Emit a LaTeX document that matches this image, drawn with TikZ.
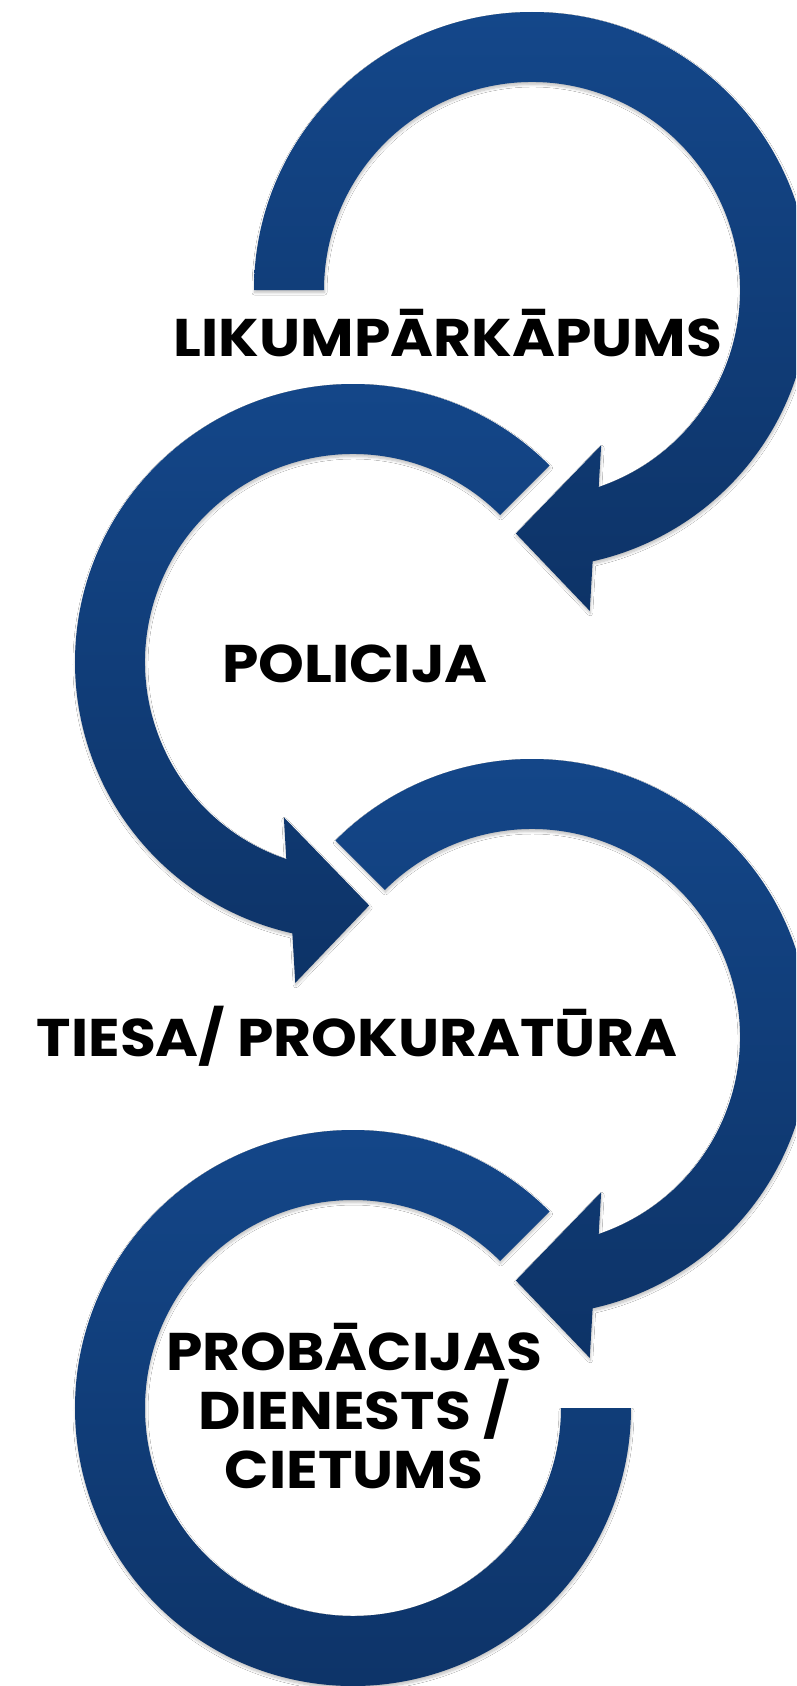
\documentclass[tikz,border=0pt]{standalone}
\usepackage{fontspec}
\newfontfamily\labfont{Poppins}[FakeStretch=1.1]
\usetikzlibrary{calc,shadows.blur}
\definecolor{topblue}{RGB}{20,71,138}
\definecolor{botblue}{RGB}{13,51,103}
\tikzset{
  arrowshape/.style={top color=topblue, bottom color=botblue, draw=none,
    blur shadow={shadow xshift=0.5pt, shadow yshift=-2.5pt, shadow opacity=25, shadow blur radius=2.5pt, shadow blur steps=8}},
  lbl/.style={font=\labfont\bfseries\fontsize{53}{58.7}\selectfont, inner sep=0pt, align=center, text=black}
}
\begin{document}
\begin{tikzpicture}[x=1pt,y=1pt]
\useasboundingbox (0,0) rectangle (796,-1686);
\fill[white] (0,0) rectangle (796,-1686);
\clip (0,0) rectangle (796,-1686);
\coordinate (c1) at (532,-290);
\coordinate (c2) at (353,-662);
\coordinate (c3) at (532,-1037);
\coordinate (c4) at (353,-1408);
% arc 1
\path[arrowshape] ($(c1)+(180:278pt)$) arc[start angle=180, end angle=-77.4, radius=278pt]
  -- ($(c1)+(-79.8:326pt)$) -- ($(c1)+(-93.8:244pt)$) -- ($(c1)+(-66:170pt)$)
  -- ($(c1)+(-71.3:208pt)$) arc[start angle=-71.3, end angle=180, radius=208pt] -- cycle;
% arc 2
\path[arrowshape] ($(c2)+(45:278pt)$) arc[start angle=45, end angle=257.4, radius=278pt]
  -- ($(c2)+(259.8:326pt)$) -- ($(c2)+(273.8:244pt)$) -- ($(c2)+(246:170pt)$)
  -- ($(c2)+(251.3:208pt)$) arc[start angle=251.3, end angle=45, radius=208pt] -- cycle;
% arc 3
\path[arrowshape] ($(c3)+(135:278pt)$) arc[start angle=135, end angle=-77.4, radius=278pt]
  -- ($(c3)+(-79.8:326pt)$) -- ($(c3)+(-93.8:244pt)$) -- ($(c3)+(-66:170pt)$)
  -- ($(c3)+(-71.3:208pt)$) arc[start angle=-71.3, end angle=135, radius=208pt] -- cycle;
% arc 4
\path[arrowshape] ($(c4)+(45:278pt)$) arc[start angle=45, end angle=360, radius=278pt]
  -- ($(c4)+(0:208pt)$) arc[start angle=360, end angle=45, radius=208pt] -- cycle;
% labels
\node[lbl, anchor=base] (t1) at (448,-356) {LIKUMPĀRKĀPUMS};
\node[lbl, anchor=base] (t2) at (355,-682) {POLICIJA};
\node[lbl, anchor=base] (t3) at (357,-1056) {TIESA/ PROKURATŪRA};
\node[lbl, anchor=base] (t4) at (354,-1488) {PROBĀCIJAS\\DIENESTS /\\CIETUMS};
\end{tikzpicture}
\end{document}
